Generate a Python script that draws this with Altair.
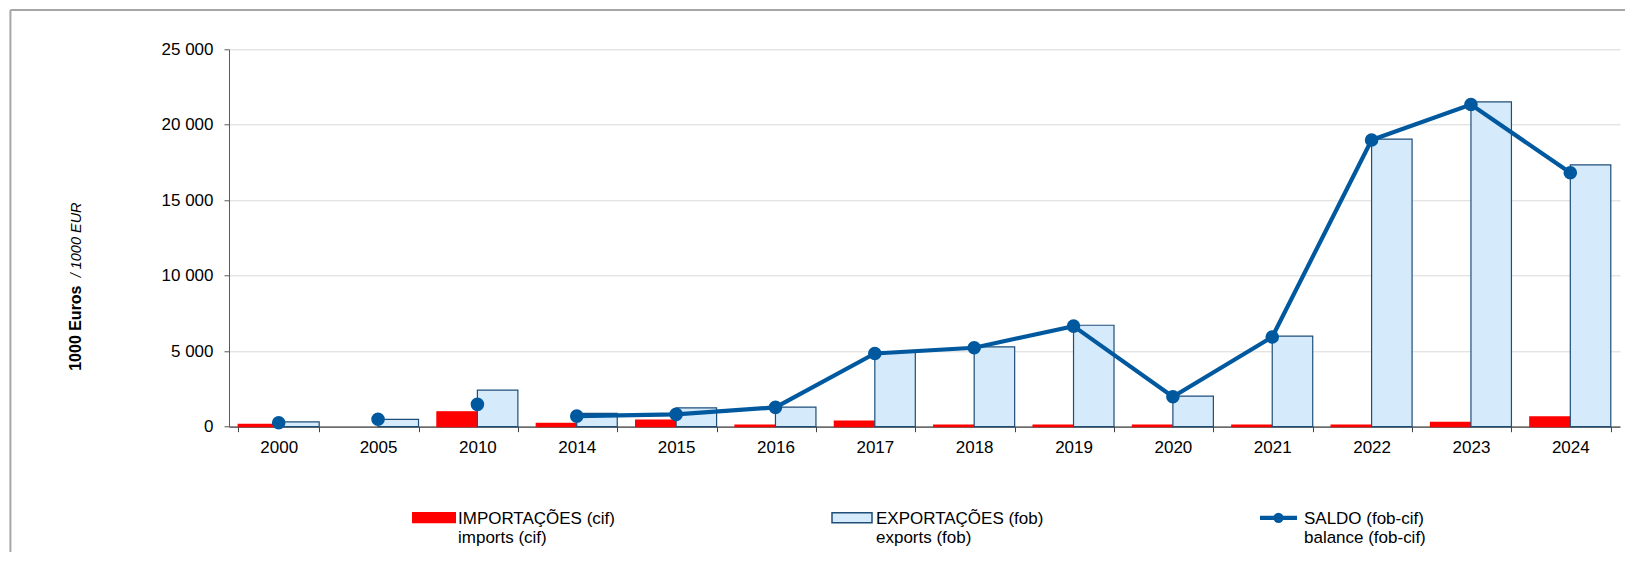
import altair as alt
import pandas as pd

# ---------------- data ----------------
years = ["2000", "2005", "2010", "2014", "2015", "2016", "2017",
         "2018", "2019", "2020", "2021", "2022", "2023", "2024"]
imports = [150, 0, 990, 220, 440, 110, 375, 110, 110, 110, 110, 110, 290, 650]
exports = [320, 490, 2420, 880, 1250, 1300, 4950, 5290, 6720, 2030, 6000,
           19050, 21520, 17350]
balance = [265, 490, 1480, 700, 815, 1280, 4850, 5230, 6660, 1980, 5940,
           18990, 21340, 16820]

legend_pt = ["IMPORTAÇÕES (cif)", "EXPORTAÇÕES (fob)", "SALDO (fob-cif)"]
legend_en = ["imports (cif)", "exports (fob)", "balance (fob-cif)"]
y_title_main = "1000 Euros"
y_title_sub = "/ 1000 EUR"
y_ticks = [0, 5000, 10000, 15000, 20000, 25000]

# ---------------- styles ----------------
FONT = "Liberation Sans"
RED = "#FF0000"
EXP_FILL = "#D5EBFB"
EXP_STROKE = "#1F4E79"
LINE = "#00599F"
W, H = 1391, 377.4

bars_df = pd.DataFrame({
    "year": years * 2,
    "series": ["imp"] * len(years) + ["exp"] * len(years),
    "value": imports + exports,
})
bal_df = pd.DataFrame({"year": years, "balance": balance})
one = pd.DataFrame({"k": [0]})

x_main = alt.X(
    "year:N", sort=years,
    scale=alt.Scale(paddingInner=0.185, paddingOuter=0.0925),
    axis=alt.Axis(title=None, labelAngle=0, tickBand="extent", grid=False,
                  domainColor="#404040", domainWidth=1.3, tickColor="#404040",
                  tickSize=5, labelPadding=8, labelFontSize=17, labelFont=FONT,
                  labelColor="#000000"),
)
y_main = alt.Y(
    "value:Q",
    scale=alt.Scale(domain=[0, 25000], nice=False),
    axis=alt.Axis(title=None, values=y_ticks, grid=True, gridColor="#D9D9D9",
                  gridWidth=1, domainColor="#595959", tickColor="#595959",
                  tickSize=5, labelPadding=11, labelFontSize=17, labelFont=FONT,
                  labelColor="#000000",
                  labelExpr="replace(format(datum.value, ','), ',', ' ')"),
)

bars = alt.Chart(bars_df).mark_bar().encode(
    x=x_main,
    xOffset=alt.XOffset("series:N", sort=["imp", "exp"],
                        scale=alt.Scale(paddingInner=0, paddingOuter=0)),
    y=y_main,
    fill=alt.Fill("series:N", scale=alt.Scale(domain=["imp", "exp"], range=[RED, EXP_FILL]),
                  legend=None),
    stroke=alt.Stroke("series:N", scale=alt.Scale(domain=["imp", "exp"], range=[RED, EXP_STROKE]),
                      legend=None),
    strokeWidth=alt.condition("datum.value > 0", alt.value(1.2), alt.value(0)),
)

line = alt.Chart(bal_df).transform_filter("toNumber(datum.year) >= 2014").mark_line(
    color=LINE, strokeWidth=4.2
).encode(x=alt.X("year:N", sort=years), y=alt.Y("balance:Q"))

points = alt.Chart(bal_df).mark_circle(color=LINE, size=185, opacity=1).encode(
    x=alt.X("year:N", sort=years), y=alt.Y("balance:Q")
)

# ---------------- frame ----------------
frame_top = alt.Chart(one).mark_rule(color="#A6A6A6", strokeWidth=2).encode(
    x=alt.value(-218.6), x2=alt.value(W + 20), y=alt.value(-39.3))
frame_left = alt.Chart(one).mark_rule(color="#A6A6A6", strokeWidth=2).encode(
    x=alt.value(-218.6), y=alt.value(-39.3), y2=alt.value(H + 200))

# ---------------- y title (mixed styles) ----------------
ytitle_bold = alt.Chart(one).mark_text(
    text=y_title_main, angle=270, align="left", baseline="alphabetic",
    font=FONT, fontSize=16, fontWeight="bold", color="#000000"
).encode(x=alt.value(-148.5), y=alt.value(321.5))
ytitle_ital = alt.Chart(one).mark_text(
    text=y_title_sub, angle=270, align="left", baseline="alphabetic",
    font=FONT, fontSize=14.5, fontStyle="italic", color="#000000"
).encode(x=alt.value(-148.5), y=alt.value(228))

# ---------------- legend ----------------
leg_y1, leg_y2 = 474.7, 493.7
leg_red = alt.Chart(one).mark_rect(color=RED).encode(
    x=alt.value(183), x2=alt.value(227), y=alt.value(462.7), y2=alt.value(474))
leg_blue = alt.Chart(one).mark_rect(fill=EXP_FILL, stroke=EXP_STROKE, strokeWidth=1.5).encode(
    x=alt.value(603), x2=alt.value(643), y=alt.value(463.4), y2=alt.value(473.4))
leg_line = alt.Chart(one).mark_rule(color=LINE, strokeWidth=4.2).encode(
    x=alt.value(1031), x2=alt.value(1068), y=alt.value(468.5))
leg_dot = alt.Chart(one).mark_circle(color=LINE, size=105, opacity=1).encode(
    x=alt.value(1049.5), y=alt.value(468.5))

leg_texts = []
for xpos, t1, t2 in zip([229, 647, 1075], legend_pt, legend_en):
    leg_texts.append(alt.Chart(one).mark_text(
        text=t1, align="left", baseline="alphabetic", font=FONT, fontSize=17,
        color="#000000").encode(x=alt.value(xpos), y=alt.value(leg_y1)))
    leg_texts.append(alt.Chart(one).mark_text(
        text=t2, align="left", baseline="alphabetic", font=FONT, fontSize=17,
        color="#000000").encode(x=alt.value(xpos), y=alt.value(leg_y2)))

chart = alt.layer(
    bars, line, points, frame_top, frame_left, ytitle_bold, ytitle_ital,
    leg_red, leg_blue, leg_line, leg_dot, *leg_texts
).properties(
    width=W, height=H,
    autosize=alt.AutoSizeParams(type="none"),
    padding={"left": 221, "top": 41.3, "right": 5, "bottom": 125},
).configure(font=FONT).configure_view(strokeWidth=0)

chart.save("out.html", embed_options={"renderer": "svg", "actions": False})
